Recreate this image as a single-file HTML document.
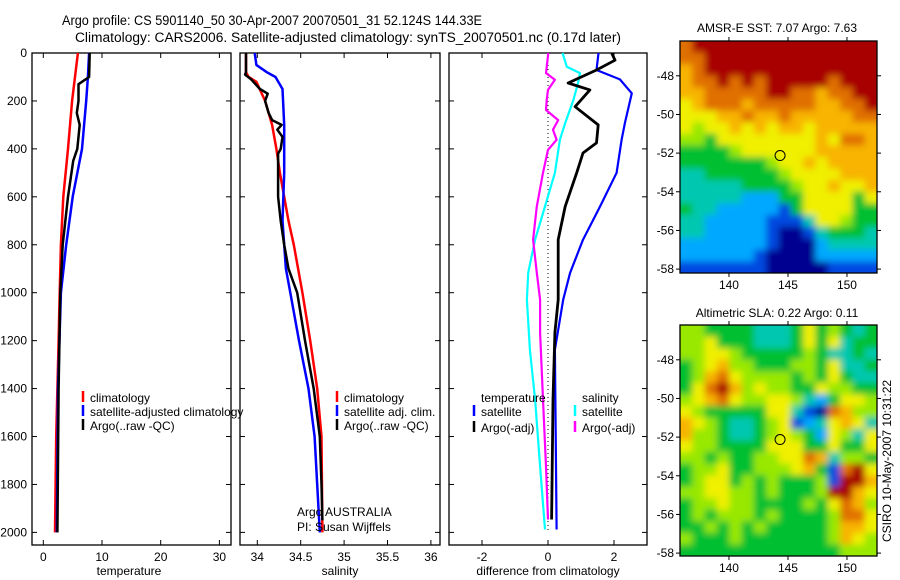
<!DOCTYPE html>
<html><head><meta charset="utf-8"><style>
body{margin:0;background:#fff;}
svg{display:block;font-family:"Liberation Sans",sans-serif;}
</style></head><body>
<svg id="fig" width="900" height="580" viewBox="0 0 900 580" xmlns="http://www.w3.org/2000/svg">
<defs>
<filter id="blur" x="-5%" y="-5%" width="110%" height="110%"><feGaussianBlur stdDeviation="3.5"/></filter>
<clipPath id="clip1"><rect x="680" y="41" width="197" height="232"/></clipPath>
<clipPath id="clip2"><rect x="680" y="325" width="197" height="231"/></clipPath>
</defs>
<rect width="900" height="580" fill="#fff"/>
<text x="62" y="25" font-size="13.5" textLength="420" lengthAdjust="spacingAndGlyphs">Argo profile: CS 5901140_50 30-Apr-2007 20070501_31 52.124S 144.33E</text>
<text x="75" y="42" font-size="13.5" textLength="546" lengthAdjust="spacingAndGlyphs">Climatology: CARS2006. Satellite-adjusted climatology: synTS_20070501.nc (0.17d later)</text>
<g id="g1"></g>
<g id="g2"></g>
<g id="g3"></g>
<g id="m1"></g>
<g id="m2"></g>
<text x="777" y="32" font-size="12" text-anchor="middle">AMSR-E SST: 7.07 Argo: 7.63</text>
<text x="777" y="317" font-size="12" text-anchor="middle">Altimetric SLA: 0.22 Argo: 0.11</text>
<text x="0" y="0" font-size="12" text-anchor="middle" transform="translate(891,461) rotate(-90)">CSIRO 10-May-2007 10:31:22</text>
<text x="129" y="575" font-size="12" text-anchor="middle">temperature</text>
<text x="340" y="575" font-size="12" text-anchor="middle">salinity</text>
<text x="548" y="575" font-size="12" text-anchor="middle">difference from climatology</text>
<text x="297" y="516" font-size="12">Argo AUSTRALIA</text>
<text x="297" y="531" font-size="12">PI: Susan Wijffels</text>
</svg>
<script>
// ---- data ----
const depthTicks=[0,200,400,600,800,1000,1200,1400,1600,1800,2000];
const tempTicks=[0,10,20,30];
const salTicks=[34,34.5,35,35.5,36];
const salTickLabels=["34","34.5","35","35.5","36"];
const diffTicks=[-2,0,2];
// temperature profiles
const tClimDepth=[0,200,400,600,800,1000,1200,1400,1600,1800,2000];
const tClim=[5.9,4.9,4.2,3.4,3.0,2.8,2.6,2.4,2.2,2.1,2.0];
const tSatDepth=[0,100,200,400,600,800,1000,1400,2000];
const tSat=[7.8,7.6,7.3,6.6,5.0,3.9,3.0,2.5,2.3];
const tArgoDepth=[0,100,130,200,250,300,350,400,450,600,800,1000,1400,2000];
const tArgo=[7.9,7.8,6.0,6.0,5.7,6.2,6.0,5.8,5.1,4.2,3.3,2.9,2.6,2.4];
// salinity profiles
const sClimDepth=[0,80,100,120,200,300,400,500,600,700,800,900,1000,1200,1400,1600,2000];
const sClim=[33.87,33.87,33.90,33.99,34.09,34.17,34.22,34.26,34.31,34.36,34.42,34.47,34.52,34.61,34.69,34.74,34.75];
const sSatDepth=[0,50,80,100,150,300,500,700,800,900,1000,1200,1400,1600,1800,2000];
const sSat=[33.97,33.99,34.11,34.21,34.29,34.31,34.31,34.29,34.31,34.33,34.38,34.48,34.59,34.66,34.69,34.72];
const sArgoDepth=[0,80,90,110,150,170,200,250,280,300,320,350,400,420,600,700,800,900,1000,1200,1400,1600,1800,1950];
const sArgo=[33.87,33.87,33.86,33.93,34.03,34.12,34.09,34.13,34.17,34.28,34.23,34.29,34.27,34.24,34.24,34.27,34.31,34.36,34.46,34.55,34.65,34.72,34.74,34.75];
// differences
const dTSatDepth=[0,71,110,168,292,362,500,640,779,917,1029,1238,1988];
const dTSat=[1.53,1.47,2.18,2.54,2.33,2.23,2.08,1.58,1.06,0.67,0.46,0.21,0.26];
const dTArgoDepth=[0,30,71,125,154,224,300,375,417,500,640,779,917,1029,1167,1446,1946];
const dTArgo=[1.93,2.03,1.47,0.61,1.27,0.82,1.52,1.47,1.06,0.87,0.52,0.31,0.31,0.31,0.21,0.15,0.11];
const dSSatDepth=[0,57,84,125,196,292,362,500,640,779,917,1029,1238,1446,1725,1988];
const dSSat=[0.44,0.57,0.97,0.91,0.77,0.52,0.36,0.21,-0.09,-0.39,-0.60,-0.64,-0.55,-0.39,-0.24,-0.09];
const dSArgoDepth=[0,84,112,154,196,238,280,320,362,404,500,640,779,917,1029,1167,1446,1725,1946];
const dSArgo=[0.01,-0.06,0.21,0.0,-0.04,-0.06,0.31,0.15,0.26,0.0,-0.15,-0.34,-0.45,-0.34,-0.24,-0.24,-0.15,-0.06,0.0];
// maps (level 0..9)
const sstGrid=["8999999999999999","8899999999999999","7899999999999999","7889898999998999","7788888998878899","6788878888877889","6667787787777788","6566767677677777","5546666666676887","4444566666677777","4444444566767777","3344444456666777","3333344445667667","3333322244666646","4332222214666644","3322222111366544","3322222100134443","2222222100023333","2222221000022222","1111111000001111"];
const slaGrid=["5544443334645434","5564443334646344","5566544444543343","4567554445546334","4578655554546433","4689756554465544","5678655665324665","6544444663108755","7654334561236763","7554334565426536","6554444666446446","5545445566873554","4556445556741896","4566454544451997","5566554544459976","4556554444546875","4545554544445886","4454545444445776","5444544444445765","4444444444444555"];
const lonTicks=[140,145,150];
const latTicks=[-48,-50,-52,-54,-56,-58];
const argoLon=144.33, argoLat=-52.124;
const palette=["#000090","#0048e0","#00a8ff","#00c8b0","#00c030","#98e800","#f0f000","#f8b400","#e07000","#a80000"];

// ---- drawing ----
const NS="http://www.w3.org/2000/svg";
function mk(tag,attrs,parent){const e=document.createElementNS(NS,tag);for(const k in attrs)e.setAttribute(k,attrs[k]);parent.appendChild(e);return e;}
const yTop=53,yBot=545;
const yD=d=>yTop+d*0.2397;
function panel(g,x0,x1,xs,ticks,labels,showY){
  const f=mk('rect',{x:x0,y:yTop,width:x1-x0,height:yBot-yTop,fill:'none',stroke:'#000','stroke-width':1.3},g);
  
  
  ticks.forEach((t,i)=>{const x=xs(t);
    mk('line',{x1:x,x2:x,y1:yTop,y2:yTop+5,stroke:'#000'},g);
    mk('line',{x1:x,x2:x,y1:yBot,y2:yBot-5,stroke:'#000'},g);
    const tx=mk('text',{x:x,y:561,'font-size':12,'text-anchor':'middle'},g);tx.textContent=labels[i];
    
    
  });
  depthTicks.forEach(d=>{const y=yD(d);
    mk('line',{x1:x0,x2:x0+5,y1:y,y2:y,stroke:'#000'},g);
    mk('line',{x1:x1,x2:x1-5,y1:y,y2:y,stroke:'#000'},g);
    if(showY){const tx=mk('text',{x:27,y:y+4,'font-size':12,'text-anchor':'end'},g);tx.textContent=String(d);
      
      }
  });
}
function line(g,xs,depths,vals,color,w,name){
  const pts=depths.map((d,i)=>xs(vals[i]).toFixed(1)+','+yD(d).toFixed(1)).join(' ');
  const p=mk('polyline',{points:pts,fill:'none',stroke:color,'stroke-width':w,'stroke-linejoin':'round'},g);
  
  
}
function legend(g,x,y,color,label){
  mk('line',{x1:x,x2:x,y1:y-11,y2:y,stroke:color,'stroke-width':2.5},g);
  const t=mk('text',{x:x+7,y:y,'font-size':12},g);t.textContent=label;
  
  
}
// panel 1
const g1=document.getElementById('g1');
const xT=v=>43.3+v*5.87;
panel(g1,32,231,xT,tempTicks,tempTicks.map(String),true);
line(g1,xT,tClimDepth,tClim,'#f00',2.5,'temp-climatology-line');
line(g1,xT,tSatDepth,tSat,'#00f',2.5,'temp-satellite-line');
line(g1,xT,tArgoDepth,tArgo,'#000',2.5,'temp-argo-line');
legend(g1,83,402,'#f00','climatology');
legend(g1,83,416,'#00f','satellite-adjusted climatology');
legend(g1,83,430,'#000','Argo(..raw -QC)');
// panel 2
const g2=document.getElementById('g2');
const xS=v=>257.3+(v-34)*86.8;
panel(g2,240,440,xS,salTicks,salTickLabels,false);
line(g2,xS,sClimDepth,sClim,'#f00',2.5,'sal-climatology-line');
line(g2,xS,sSatDepth,sSat,'#00f',2.5,'sal-satellite-line');
line(g2,xS,sArgoDepth,sArgo,'#000',2.5,'sal-argo-line');
legend(g2,337,402,'#f00','climatology');
legend(g2,337,416,'#00f','satellite adj. clim.');
legend(g2,337,430,'#000','Argo(..raw -QC)');
// panel 3
const g3=document.getElementById('g3');
const xDf=v=>548+v*33;
panel(g3,449,647,xDf,diffTicks,diffTicks.map(String),false);
mk('line',{x1:xDf(0),x2:xDf(0),y1:yD(0),y2:yD(2000),stroke:'#000','stroke-dasharray':'1,3'},g3);
line(g3,xDf,dSSatDepth,dSSat,'#0ff',2.2,'sal-satellite-diff-line');
line(g3,xDf,dSArgoDepth,dSArgo,'#f0f',2.2,'sal-argo-diff-line');
line(g3,xDf,dTSatDepth,dTSat,'#00f',2.2,'temp-satellite-diff-line');
line(g3,xDf,dTArgoDepth,dTArgo,'#000',2.8,'temp-argo-diff-line');
const lt=mk('text',{x:481,y:402,'font-size':12},g3);lt.textContent='temperature';


const ls=mk('text',{x:582,y:402,'font-size':12},g3);ls.textContent='salinity';


legend(g3,474,416,'#00f','satellite');
legend(g3,474,432,'#000','Argo(-adj)');
legend(g3,575,416,'#0ff','satellite');
legend(g3,575,432,'#f0f','Argo(-adj)');
// maps
function map(g,grid,x0,y0,w,h,name,clip){
  const rows=grid.length,cols=grid[0].length,cw=w/cols,ch=h/rows;
  const lon=v=>x0+(v-135.85)*11.8, lat=v=>y0+(-46.2-v)*19.33;
  const outer=mk('g',{'clip-path':'url(#'+clip+')'},g);
  const cells=mk('g',{filter:'url(#blur)'},outer);
  grid.forEach((r,i)=>{for(let j=0;j<cols;j++){
    let x=x0+j*cw,y=y0+i*ch,ww=cw+0.6,hh=ch+0.6;
    if(j===0){x-=8;ww+=8;} if(j===cols-1){ww+=8;}
    if(i===0){y-=8;hh+=8;} if(i===rows-1){hh+=8;}
    const c=mk('rect',{x:x.toFixed(2),y:y.toFixed(2),width:ww.toFixed(2),height:hh.toFixed(2),fill:palette[+r[j]]},cells);
    
    
  }});
  const f=mk('rect',{x:x0,y:y0,width:w,height:h,fill:'none',stroke:'#000','stroke-width':1.3},g);
  
  
  lonTicks.forEach(t=>{const x=lon(t);
    mk('line',{x1:x,x2:x,y1:y0,y2:y0-4,stroke:'#000'},g);
    mk('line',{x1:x,x2:x,y1:y0+h,y2:y0+h+4,stroke:'#000'},g);
    const tx=mk('text',{x:x,y:y0+h+16,'font-size':12,'text-anchor':'middle'},g);tx.textContent=String(t);
    
    });
  latTicks.forEach(t=>{const y=lat(t);
    mk('line',{x1:x0,x2:x0-4,y1:y,y2:y,stroke:'#000'},g);
    mk('line',{x1:x0+w,x2:x0+w+4,y1:y,y2:y,stroke:'#000'},g);
    const tx=mk('text',{x:x0-6,y:y+4,'font-size':12,'text-anchor':'end'},g);tx.textContent=String(t);
    
    });
  const m=mk('circle',{cx:lon(argoLon),cy:lat(argoLat),r:5,fill:'none',stroke:'#000','stroke-width':1},g);
  
  
}
map(document.getElementById('m1'),sstGrid,680,41,197,232,'sst-map','clip1');
map(document.getElementById('m2'),slaGrid,680,325,197,231,'sla-map','clip2');
</script>
</body></html>
